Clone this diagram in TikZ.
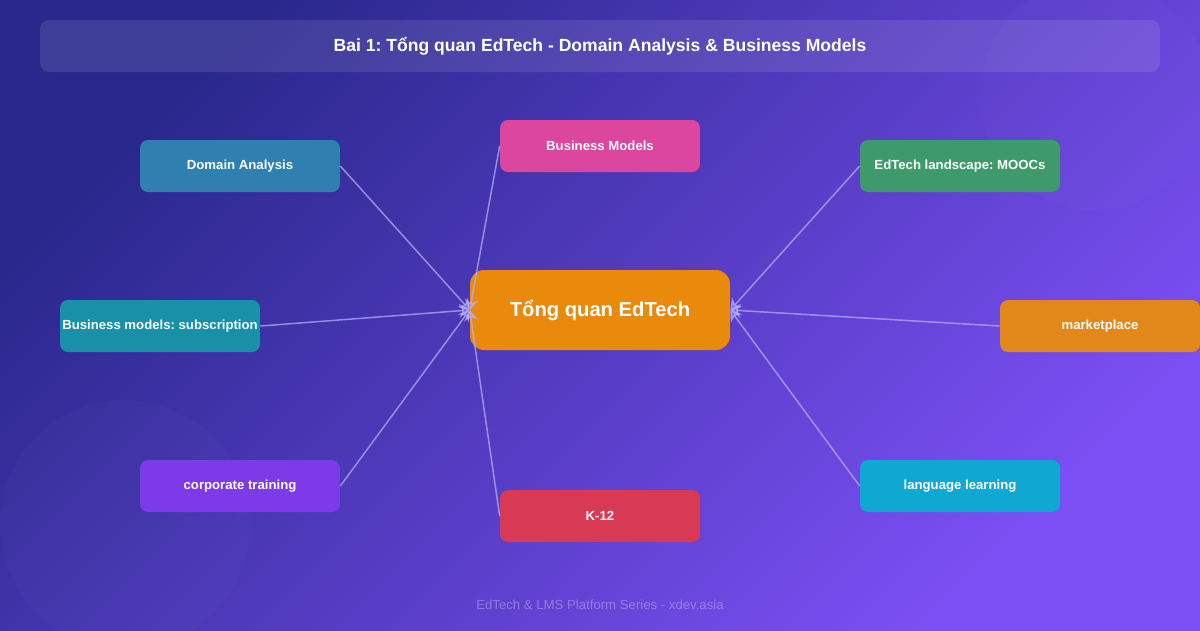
\documentclass[tikz,border=0pt]{standalone}
\usepackage{fontspec}
\setmainfont{Liberation Sans}
\usepackage{xcolor}
\usepackage{tikz}
\usetikzlibrary{arrows.meta,positioning,shapes.geometric}
\frenchspacing
\definecolor{fondoa}{HTML}{29288C}
\definecolor{fondob}{HTML}{7C4FF4}
\definecolor{azulacero}{HTML}{2F80B0}
\definecolor{rosa}{HTML}{DC469E}
\definecolor{verde}{HTML}{3F9A6B}
\definecolor{turquesa}{HTML}{1790A8}
\definecolor{naranja}{HTML}{EA8A0C}
\definecolor{ambar}{HTML}{E2871A}
\definecolor{violeta}{HTML}{7C3AE8}
\definecolor{carmin}{HTML}{D83A56}
\definecolor{celeste}{HTML}{0EA8D2}
\definecolor{lila}{HTML}{B8B2F8}
\tikzset{
  hoja/.style={rounded corners=4.5pt,text=white,align=center,font=\fontsize{7.5}{9}\selectfont\bfseries,
    minimum width=4cm,minimum height=1.04cm,inner sep=0pt},
  centro/.style={fill=naranja,rounded corners=8pt,text=white,font=\fontsize{11.5}{13}\selectfont\bfseries,
    minimum width=5.2cm,minimum height=1.6cm,inner sep=0pt},
  titulo/.style={fill=white,fill opacity=0.1,text opacity=1,text=white,rounded corners=5pt,
    font=\fontsize{10}{12}\selectfont\bfseries,minimum width=22.4cm,minimum height=1.04cm,inner sep=0pt},
  pie/.style={text=white,text opacity=0.3,font=\fontsize{7.5}{9}\selectfont},
  enlace/.style={-{Stealth[length=6pt,width=8pt]},line width=0.85pt,draw=lila,draw opacity=0.7,fill=lila,fill opacity=0.45},
}
\begin{document}
\begin{tikzpicture}[x=0.02cm,y=-0.02cm]
  \useasboundingbox (0,0) rectangle (1200,630);
  % fondo
  \begin{scope}
    \clip (0,0) rectangle (1200,630);
    \shade[top color=fondoa,bottom color=fondob,shading angle=45] (0,0) rectangle (1200,630);
    \fill[white,opacity=0.015] (125,525) circle (125);
    \fill[white,opacity=0.015] (1095,95) circle (115);
  \end{scope}

  \node[titulo] (tit) at (600,46) {Bai 1: Tổng quan EdTech - Domain Analysis \& Business Models};
  \node[centro] (ctr) at (600,310) {Tổng quan EdTech};

  \node[hoja,fill=azulacero] (dom) at (240,166) {Domain Analysis};
  \node[hoja,fill=rosa] (bm) at (600,146) {Business Models};
  \node[hoja,fill=verde] (moocs) at (960,166) {EdTech landscape: MOOCs};
  \node[hoja,fill=turquesa] (subs) at (160,326) {\makebox[0pt]{Business models: subscription}};
  \node[hoja,fill=ambar] (mkt) at (1100,326) {marketplace};
  \node[hoja,fill=violeta] (corp) at (240,486) {corporate training};
  \node[hoja,fill=carmin] (k12) at (600,516) {K-12};
  \node[hoja,fill=celeste] (lang) at (960,486) {language learning};

  \draw[enlace] (dom.east) -- (ctr.west);
  \draw[enlace] (bm.west) -- (ctr.west);
  \draw[enlace] (subs.east) -- (ctr.west);
  \draw[enlace] (corp.east) -- (ctr.west);
  \draw[enlace] (k12.west) -- (ctr.west);
  \draw[enlace] (moocs.west) -- (ctr.east);
  \draw[enlace] (mkt.west) -- (ctr.east);
  \draw[enlace] (lang.west) -- (ctr.east);

  \node[pie] (foot) at (600,605) {EdTech \& LMS Platform Series - xdev.asia};
\end{tikzpicture}
\end{document}
